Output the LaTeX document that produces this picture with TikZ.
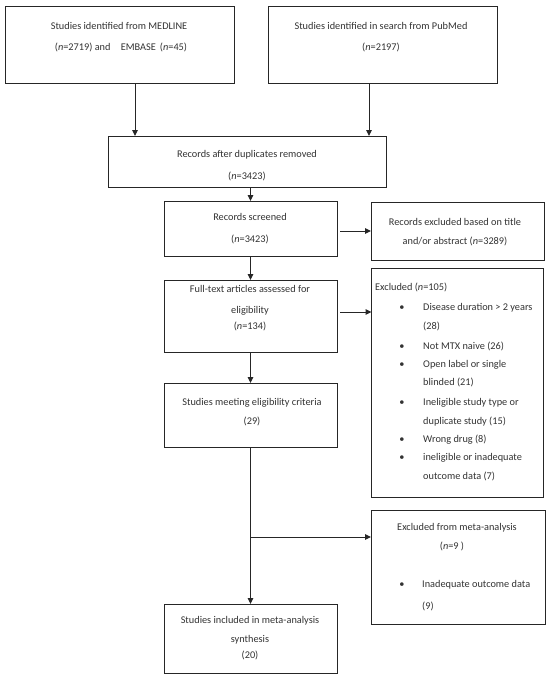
\documentclass[tikz,border=0pt]{standalone}
\usepackage{fontspec}
\setmainfont{Carlito}
\usetikzlibrary{arrows.meta}
\definecolor{ink}{HTML}{333333}
\definecolor{edge}{HTML}{262626}
\begin{document}
\begin{tikzpicture}[x=1pt,y=-1pt,
  box/.style={draw=edge,line width=1pt,inner sep=0pt,outer sep=0pt},
  txt/.style={inner sep=0pt,anchor=mid,text=ink,font=\fontsize{10.3}{12}\selectfont},
  ltxt/.style={txt,anchor=mid west},
  arr/.style={draw=edge,line width=1pt,-{Triangle[length=6pt,width=5.5pt]}}]
\useasboundingbox (0,0) rectangle (550,682);
\fill[white] (0,0) rectangle (550,682);
% boxes
\node[box,minimum width=229pt,minimum height=77pt] (A) at (119.5,45.5) {};
\node[box,minimum width=229pt,minimum height=77pt] (B) at (382.5,45.5) {};
\node[box,minimum width=278pt,minimum height=51pt] (C) at (247,161.5) {};
\node[box,minimum width=173pt,minimum height=55pt] (D) at (250.5,228.5) {};
\node[box,minimum width=173pt,minimum height=58pt] (E) at (457.5,231) {};
\node[box,minimum width=173pt,minimum height=72pt] (F) at (250.5,316) {};
\node[box,minimum width=172pt,minimum height=229pt] (G) at (457.5,382.5) {};
\node[box,minimum width=173pt,minimum height=64pt] (H) at (250.5,415) {};
\node[box,minimum width=174pt,minimum height=114pt] (I) at (458,567) {};
\node[box,minimum width=173pt,minimum height=69pt] (J) at (250.5,638.5) {};
% texts
\node[txt] (a1) at (119,27) {Studies identified from MEDLINE};
\node[txt] (a2) at (121,48) {(\textit{n}=2719) and\quad EMBASE\, (\textit{n}=45)};
\node[txt] (b1) at (381,27) {Studies identified in search from PubMed};
\node[txt] (b2) at (381,48) {(\textit{n}=2197)};
\node[txt] (c1) at (247,155) {Records after duplicates removed};
\node[txt] (c2) at (247,177) {(\textit{n}=3423)};
\node[txt] (d1) at (250,218) {Records screened};
\node[txt] (d2) at (250,240) {(\textit{n}=3423)};
\node[txt] (e1) at (455,223) {Records excluded based on title};
\node[txt] (e2) at (455,242) {and/or abstract (\textit{n}=3289)};
\node[txt] (f1) at (250,290) {Full-text articles assessed for};
\node[txt] (f2) at (250,311) {eligibility};
\node[txt] (f3) at (250,327) {(\textit{n}=134)};
\node[ltxt] (g0) at (375,288) {Excluded (\textit{n}=105)};
\node[txt] (gb1) at (402,308) {•};
\node[ltxt] (g1) at (423,308) {Disease duration > 2 years};
\node[ltxt] (g1b) at (423,327) {(28)};
\node[txt] (gb2) at (402,347) {•};
\node[ltxt] (g2) at (423,347) {Not MTX naive (26)};
\node[txt] (gb3) at (402,365) {•};
\node[ltxt] (g3) at (423,365) {Open label or single};
\node[ltxt] (g3b) at (423,383) {blinded (21)};
\node[txt] (gb4) at (402,403) {•};
\node[ltxt] (g4) at (423,403) {Ineligible study type or};
\node[ltxt] (g4b) at (423,422) {duplicate study (15)};
\node[txt] (gb5) at (402,440) {•};
\node[ltxt] (g5) at (423,440) {Wrong drug (8)};
\node[txt] (gb6) at (402,458) {•};
\node[ltxt] (g6) at (423,458) {ineligible or inadequate};
\node[ltxt] (g6b) at (423,477) {outcome data (7)};
\node[txt] (h1) at (252,403) {Studies meeting eligibility criteria};
\node[txt] (h2) at (252,422) {(29)};
\node[txt] (i1) at (457,528) {Excluded from meta-analysis};
\node[txt] (i2) at (452,547) {(\textit{n}=9 )};
\node[txt] (ib1) at (402,585) {•};
\node[ltxt] (i3) at (422,585) {Inadequate outcome data};
\node[ltxt] (i3b) at (422,607) {(9)};
\node[txt] (j1) at (250,621) {Studies included in meta-analysis};
\node[txt] (j2) at (250,640) {synthesis};
\node[txt] (j3) at (250,656) {(20)};
% connectors
\coordinate (ax) at (135,0);
\coordinate (bx) at (369,0);
\coordinate (cx) at (250.5,0);
\coordinate (fg) at (0,312);
\coordinate (br) at (250.5,537);
\draw[arr] (A.south -| ax) -- (C.north -| ax);
\draw[arr] (B.south -| bx) -- (C.north -| bx);
\draw[arr] (C.south -| cx) -- (D.north);
\draw[arr] ([xshift=3pt]D.east |- E.west) -- (E.west);
\draw[arr] (D.south) -- (F.north);
\draw[arr] ([xshift=3pt]F.east |- fg) -- (G.west |- fg);
\draw[arr] (F.south) -- (H.north);
\draw[arr] (H.south) -- (J.north);
\draw[arr] (br) -- (I.west |- br);
\end{tikzpicture}
\end{document}
